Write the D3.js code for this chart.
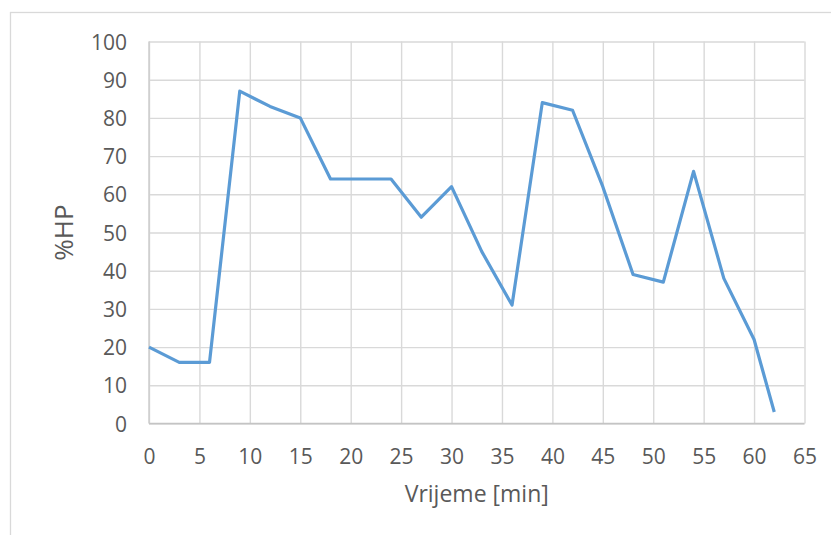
<!DOCTYPE html>
<html>
<head>
<meta charset="utf-8">
<script src="https://cdn.jsdelivr.net/npm/d3@7"></script>
<style>
html,body{margin:0;padding:0;background:#fff;}
svg{display:block;}
text{font-family:"Open Sans",sans-serif;fill:#595959;}
</style>
</head>
<body>
<svg id="chart" width="831" height="535"></svg>
<script>
const minutes = [0,3,6,9,12,15,18,21,24,27,30,33,36,39,42,45,48,51,54,57,60,62];
const hpValues = [20,16,16,87,83,80,64,64,64,54,62,45,31,84,82,62,39,37,66,38,22,3];
const xTicks = [0,5,10,15,20,25,30,35,40,45,50,55,60,65];
const yTicks = [0,10,20,30,40,50,60,70,80,90,100];
const xTitle = "Vrijeme [min]";
const yTitle = "%HP";

const svg = d3.select("#chart");
const plot = {left:149, right:804.5, top:41.5, bottom:423.5};

// outer chart border
svg.append("rect")
  .attr("x",10.5).attr("y",12.5)
  .attr("width",900).attr("height",700)
  .attr("fill","none").attr("stroke","#d9d9d9").attr("stroke-width",1.3);

const x = d3.scaleLinear().domain([0,65]).range([plot.left, plot.right]);
const y = d3.scaleLinear().domain([0,100]).range([plot.bottom, plot.top]);

// gridlines
const xGrid = d3.axisBottom(x).tickValues(xTicks).tickSize(-(plot.bottom-plot.top)).tickFormat("");
const yGrid = d3.axisLeft(y).tickValues(yTicks).tickSize(-(plot.right-plot.left)).tickFormat("");
svg.append("g").attr("transform",`translate(0,${plot.bottom})`).call(xGrid)
  .call(g=>g.select(".domain").remove())
  .selectAll("line").attr("stroke","#d9d9d9").attr("stroke-width",1.4);
svg.append("g").attr("transform",`translate(${plot.left},0)`).call(yGrid)
  .call(g=>g.select(".domain").remove())
  .selectAll("line").attr("stroke","#d9d9d9").attr("stroke-width",1.4);

// axis lines
svg.append("line").attr("x1",plot.left).attr("x2",plot.right)
  .attr("y1",plot.bottom).attr("y2",plot.bottom)
  .attr("stroke","#c4c4c4").attr("stroke-width",1.4);
svg.append("line").attr("x1",plot.left).attr("x2",plot.left)
  .attr("y1",plot.top).attr("y2",plot.bottom)
  .attr("stroke","#cccccc").attr("stroke-width",1.4);

// tick labels
const xAxis = d3.axisBottom(x).tickValues(xTicks).tickSize(0).tickPadding(0);
svg.append("g").attr("transform",`translate(0,${plot.bottom})`).call(xAxis)
  .call(g=>g.select(".domain").remove())
  .selectAll("text")
  .attr("y",40).attr("dy",null)
  .style("font-size","21px").style("font-family","'Open Sans',sans-serif").attr("fill","#595959");

const yAxis = d3.axisLeft(y).tickValues(yTicks).tickSize(0).tickPadding(0);
svg.append("g").attr("transform",`translate(${plot.left},0)`).call(yAxis)
  .call(g=>g.select(".domain").remove())
  .selectAll("text")
  .attr("x",-22).attr("dy","0.36em")
  .style("font-size","21px").style("font-family","'Open Sans',sans-serif").attr("fill","#595959");

// axis titles
svg.append("text").attr("x",(plot.left+plot.right)/2).attr("y",502)
  .attr("text-anchor","middle").style("font-size","23px").text(xTitle);
svg.append("text")
  .attr("transform",`translate(73,${(plot.top+plot.bottom)/2}) rotate(-90)`)
  .attr("text-anchor","middle").style("font-size","26px").text(yTitle);

// line
const data = minutes.map((m,i)=>({m, v:hpValues[i]}));
svg.append("path").datum(data)
  .attr("fill","none").attr("stroke","#5b9bd5").attr("stroke-width",3.2)
  .attr("stroke-linejoin","round").attr("stroke-linecap","butt")
  .attr("d", d3.line().x(d=>x(d.m)).y(d=>y(d.v)));
</script>
</body>
</html>
